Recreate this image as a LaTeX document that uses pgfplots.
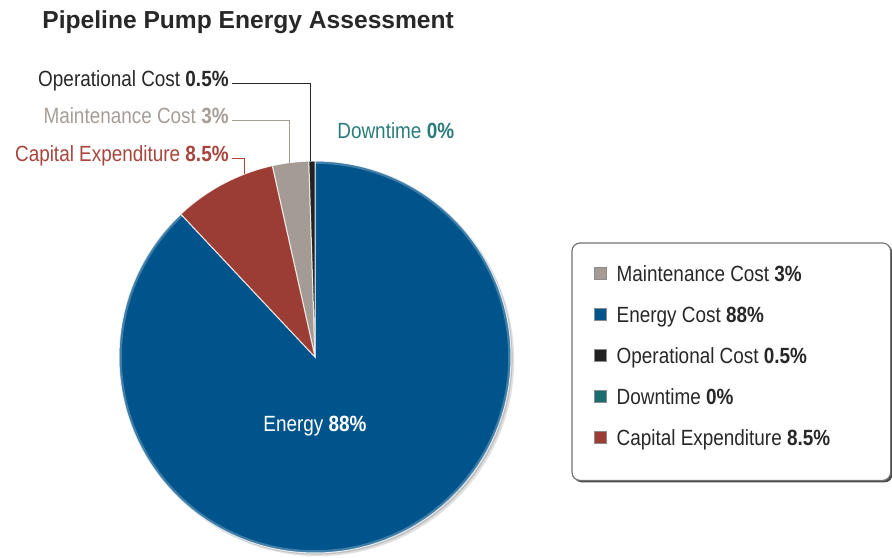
\documentclass[border=0pt]{standalone}
\usepackage{fontspec}
\setmainfont{Liberation Sans}[FakeStretch=0.86]
\newfontfamily\titlefont{Liberation Sans}
\usepackage{pgfplots}
\pgfplotsset{compat=1.18}
\usepackage{pgfplotstable}
\usepgfplotslibrary{polar}
\usetikzlibrary{backgrounds}

\definecolor{ppblue}{RGB}{0,84,140}
\definecolor{ppred}{RGB}{156,61,53}
\definecolor{ppgray}{RGB}{163,155,148}
\definecolor{ppblack}{RGB}{34,34,34}
\definecolor{ppteal}{RGB}{26,110,112}
\definecolor{txtdark}{RGB}{40,40,40}
\definecolor{txtgray}{RGB}{165,158,151}
\definecolor{txtred}{RGB}{168,69,61}
\definecolor{txtteal}{RGB}{43,123,125}

\pgfplotstableread{
name value
Maintenance 3
Energy 88
Operational 0.5
Downtime 0
Capital 8.5
}\piedata

\begin{document}
\begin{tikzpicture}[x=0.5pt,y=0.5pt,
  lbl/.style={font=\fontsize{11}{13}\selectfont, inner sep=0pt, anchor=base east}]
\useasboundingbox (0,0) rectangle (892,557);
% slice angles, counter-clockwise from 12 o'clock
\pgfplotstablegetelem{0}{value}\of\piedata \pgfmathsetmacro\vMaint{\pgfplotsretval}
\pgfplotstablegetelem{1}{value}\of\piedata \pgfmathsetmacro\vEnergy{\pgfplotsretval}
\pgfplotstablegetelem{2}{value}\of\piedata \pgfmathsetmacro\vOp{\pgfplotsretval}
\pgfplotstablegetelem{4}{value}\of\piedata \pgfmathsetmacro\vCap{\pgfplotsretval}
\pgfmathsetmacro\aA{90}
\pgfmathsetmacro\aB{\aA+3.6*\vOp}
\pgfmathsetmacro\aC{\aB+3.6*\vMaint}
\pgfmathsetmacro\aD{\aC+3.6*\vCap}
\pgfmathsetmacro\aE{\aD+3.6*\vEnergy}

\node[font=\titlefont\bfseries\fontsize{12.3}{14}\selectfont, text=txtdark,
      anchor=base west, inner sep=0pt] at (42,528) {Pipeline Pump Energy Assessment};
\node[lbl, text=txtdark] at (229,470) {Operational Cost \textbf{0.5\%}};
\node[lbl, text=txtgray] at (229,433.5) {Maintenance Cost \textbf{3\%}};
\node[lbl, text=txtred] at (229,395.5) {Capital Expenditure \textbf{8.5\%}};
\node[lbl, text=txtteal, anchor=base west] at (337,418.5) {Downtime \textbf{0\%}};

\begin{polaraxis}[
  at={(157.5pt,100pt)}, anchor=origin,
  width=196pt, height=196pt, scale only axis,
  hide axis, clip=false,
  xmin=0, xmax=360, ymin=0, ymax=1,
  slice/.style={draw=white, draw opacity=0.8, line width=0.5pt},
  legend cell align=left,
  legend image code/.code={%
    \draw[#1, sharp corners, draw=black!45, line width=0.3pt, draw opacity=1]
      (0pt,-1.8pt) rectangle (6pt,4.2pt);
    \path[draw=none, fill=none] (0pt,0pt) rectangle (8.5pt,0.1pt);},
  legend style={name=lgd, at={(1.1556,0.7908)}, anchor=north west,
    draw=none, fill=none,
    font=\fontsize{11}{13}\selectfont, text=txtdark,
    inner xsep=11pt, inner ysep=8.5pt, row sep=5.2pt,
    nodes={inner sep=2.5pt, text height=8pt, text depth=2.3pt}},
]
% soft shadow under the pie
\addplot[forget plot, draw=none, fill=black, fill opacity=0.12, domain=0:360, samples=180,
  xshift=1.6pt, yshift=-1.6pt] {1};
\addplot[forget plot, draw=none, fill=black, fill opacity=0.15, domain=0:360, samples=180,
  xshift=0.8pt, yshift=-0.8pt] {1};

\addplot[slice, fill=ppgray, domain=\aB:\aC, samples=12] {1} -- (axis cs:0,0) -- cycle;
\addlegendentry{Maintenance Cost \textbf{3\%}}
\addplot[slice, fill=ppblue, domain=\aD:\aE, samples=180] {1} -- (axis cs:0,0) -- cycle;
\addlegendentry{Energy Cost \textbf{88\%}}
\addplot[slice, fill=ppblack, domain=\aA:\aB, samples=4] {1} -- (axis cs:0,0) -- cycle;
\addlegendentry{Operational Cost \textbf{0.5\%}}
\addlegendimage{fill=ppteal}
\addlegendentry{Downtime \textbf{0\%}}
\addplot[slice, fill=ppred, domain=\aC:\aD, samples=30] {1} -- (axis cs:0,0) -- cycle;
\addlegendentry{Capital Expenditure \textbf{8.5\%}}

% light rim along the edge of the pie
\addplot[forget plot, draw=white, draw opacity=0.25, line width=1.4pt, domain=\aD:\aE, samples=180] {0.993};

\node[text=white, font=\fontsize{11}{13}\selectfont] at (axis cs:270,0.35) {Energy \textbf{88\%}};
\coordinate (opend) at (axis cs:91.2,1);
\coordinate (mtend) at (axis cs:97.5,1);
\coordinate (cpend) at (axis cs:111,1);
\end{polaraxis}

\draw[txtdark, line width=0.5pt] (232,473) -| (opend);
\draw[txtgray, line width=0.5pt] (232,436) -| (mtend);
\draw[txtred, line width=0.5pt] (232,398) -| (cpend);

\begin{scope}[on background layer]
  \fill[black!70, rounded corners=4pt]
    ([shift={(1pt,-1pt)}]lgd.north west) rectangle ([shift={(17.5pt,-5pt)}]lgd.south east);
  \draw[black!55, fill=white, line width=0.6pt, rounded corners=4pt]
    (lgd.north west) rectangle ([shift={(16.5pt,-4pt)}]lgd.south east);
\end{scope}
\end{tikzpicture}
\end{document}
